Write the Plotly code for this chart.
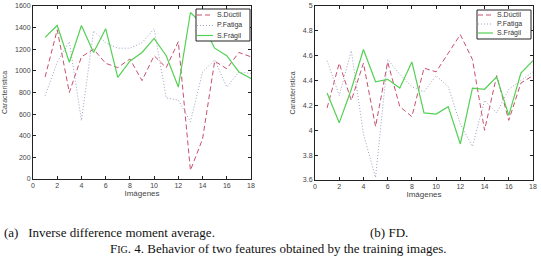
import plotly.graph_objects as go

imagenes = list(range(1, 19))

# (a) Inverse difference moment average
a_ductil = [944, 1380, 800, 1130, 1200, 1070, 1030, 1110, 910, 1140, 1030, 1270, 80, 370, 1090, 1020, 1170, 1130]
a_fatiga = [770, 1080, 1270, 540, 1370, 1260, 1210, 1210, 1260, 1390, 750, 730, 530, 990, 1100, 850, 990, 975]
a_fragil = [1310, 1420, 1080, 1420, 1170, 1390, 940, 1090, 1170, 1300, 1140, 850, 1540, 1430, 1210, 1140, 990, 930]

# (b) FD
b_ductil = [4.18, 4.54, 4.24, 4.54, 4.03, 4.55, 4.19, 4.11, 4.50, 4.47, 4.62, 4.77, 4.57, 4.00, 4.44, 4.08, 4.38, 4.44]
b_fatiga = [4.56, 4.28, 4.64, 3.97, 3.62, 4.57, 4.45, 4.35, 4.31, 4.44, 4.35, 4.05, 3.87, 4.24, 4.14, 4.33, 4.40, 4.47]
b_fragil = [4.30, 4.06, 4.33, 4.65, 4.39, 4.41, 4.34, 4.55, 4.14, 4.13, 4.19, 3.89, 4.34, 4.33, 4.43, 4.12, 4.46, 4.56]

names = ["S.Dúctil", "P.Fatiga", "S.Frágil"]
x_ticks = [0, 2, 4, 6, 8, 10, 12, 14, 16, 18]
a_yticks = [0, 200, 400, 600, 800, 1000, 1200, 1400, 1600]
b_yticks = [3.6, 3.8, 4, 4.2, 4.4, 4.6, 4.8, 5]

captions = ["(a)   Inverse difference moment average.", "(b) FD.",
            "F<span style='font-size:10px'>IG</span>. 4. Behavior of two features obtained by the training images."]

styles = [dict(color="#c8506e", dash="5px,3px", width=1),
          dict(color="#a0a0c4", dash="1px,2px", width=1),
          dict(color="#55d055", dash="solid", width=1.2)]

W, H = 541, 261
ML, MR, MT, MB = 33, 8, 6, 81
PW, PH = W - ML - MR, H - MT - MB

def fx(px):
    return (px - ML) / PW
def fy(py):
    return (H - MB - py) / PH

fig = go.Figure()
for vals, st, nm in zip([a_ductil, a_fatiga, a_fragil], styles, names):
    fig.add_trace(go.Scatter(x=imagenes, y=vals, mode="lines", line=st, name=nm,
                             xaxis="x", yaxis="y", showlegend=False))
for vals, st, nm in zip([b_ductil, b_fatiga, b_fragil], styles, names):
    fig.add_trace(go.Scatter(x=imagenes, y=vals, mode="lines", line=st, name=nm,
                             xaxis="x2", yaxis="y2", showlegend=False))

sans = "Liberation Sans, Arial"
tickfont = dict(family=sans, size=7, color="#444")
axcommon = dict(showgrid=False, zeroline=False, showline=True, linecolor="#222", linewidth=1,
                mirror="ticks", ticks="inside", ticklen=3, tickcolor="#222", tickfont=tickfont,
                automargin=False)
xtitle = dict(text="Imágenes", font=dict(family=sans, size=8, color="#444"), standoff=1)
ytitle = dict(text="Característica", font=dict(family=sans, size=7, color="#444"), standoff=6)

fig.update_layout(
    width=W, height=H, margin=dict(l=ML, r=MR, t=MT, b=MB, autoexpand=False),
    paper_bgcolor="white", plot_bgcolor="white", showlegend=False,
    xaxis=dict(domain=[fx(33), fx(251)], range=[0, 18], tickvals=x_ticks, anchor="y", title=xtitle, **axcommon),
    yaxis=dict(domain=[fy(179), fy(6)], range=[0, 1600], tickvals=a_yticks, anchor="x", title=ytitle, **axcommon),
    xaxis2=dict(domain=[fx(315), fx(533)], range=[0, 18], tickvals=x_ticks, anchor="y2", title=xtitle, **axcommon),
    yaxis2=dict(domain=[fy(180), fy(6)], range=[3.6, 5.0], tickvals=b_yticks, anchor="x2", title=ytitle, **axcommon),
)

# manual compact legends (matching the reference box geometry)
legends = [dict(box=(196, 9, 250, 41), ys=[15, 25.5, 35.5], l0=197, l1=213, tx=215),
           dict(box=(477, 10, 531, 39), ys=[15, 24, 33], l0=478, l1=493, tx=495)]
for lg in legends:
    x0, y0, x1, y1 = lg["box"]
    fig.add_shape(type="rect", xref="paper", yref="paper", x0=fx(x0), x1=fx(x1), y0=fy(y1), y1=fy(y0),
                  line=dict(color="#222", width=1), fillcolor="white", layer="above")
    for yy, st, nm in zip(lg["ys"], styles, names):
        fig.add_shape(type="line", xref="paper", yref="paper", x0=fx(lg["l0"]), x1=fx(lg["l1"]),
                      y0=fy(yy), y1=fy(yy), line=st, layer="above")
        fig.add_annotation(text=nm, x=fx(lg["tx"]), y=fy(yy), xref="paper", yref="paper",
                           xanchor="left", yanchor="middle", showarrow=False,
                           font=dict(family=sans, size=7, color="#333"))

serif = dict(family="Liberation Serif, Times New Roman", size=13, color="#111")
fig.add_annotation(text=captions[0], x=fx(2), y=fy(232), xref="paper", yref="paper",
                   xanchor="left", yanchor="middle", showarrow=False, font=serif)
fig.add_annotation(text=captions[1], x=fx(368), y=fy(232), xref="paper", yref="paper",
                   xanchor="left", yanchor="middle", showarrow=False, font=serif)
fig.add_annotation(text=captions[2], x=fx(278), y=fy(248), xref="paper", yref="paper",
                   xanchor="center", yanchor="middle", showarrow=False, font=serif)

fig.write_html("out.html", config={"displayModeBar": False},
               post_script="document.body.style.margin='0';document.body.style.overflow='hidden';")
